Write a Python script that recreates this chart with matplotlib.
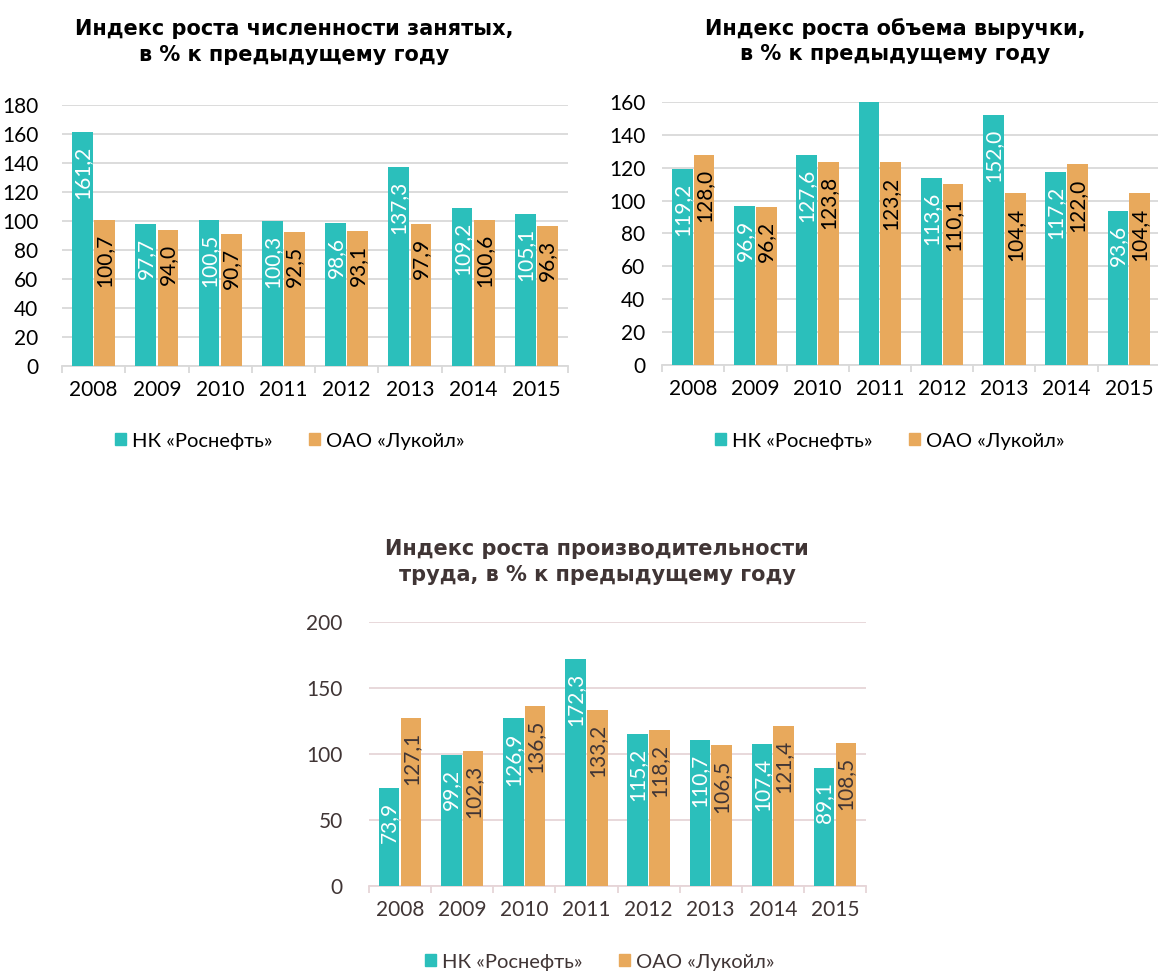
import matplotlib
matplotlib.use("Agg")
from matplotlib import pyplot as plt
from matplotlib.patches import Patch
import numpy as np

plt.rcParams['font.family'] = ['Lato', 'Open Sans', 'DejaVu Sans']

years = ['2008', '2009', '2010', '2011', '2012', '2013', '2014', '2015']
series_names = ['НК «Роснефть»', 'ОАО «Лукойл»']

emp_rosneft = [161.2, 97.7, 100.5, 100.3, 98.6, 137.3, 109.2, 105.1]
emp_lukoil = [100.7, 94.0, 90.7, 92.5, 93.1, 97.9, 100.6, 96.3]

rev_rosneft = [119.2, 96.9, 127.6, 172.8, 113.6, 152.0, 117.2, 93.6]
rev_lukoil = [128.0, 96.2, 123.8, 123.2, 110.1, 104.4, 122.0, 104.4]

prod_rosneft = [73.9, 99.2, 126.9, 172.3, 115.2, 110.7, 107.4, 89.1]
prod_lukoil = [127.1, 102.3, 136.5, 133.2, 118.2, 106.5, 121.4, 108.5]

TEAL = '#2bbfbb'
ORANGE = '#e8a95c'
W, H = 1158, 971


def fmt(v):
    return f"{v:.1f}".replace('.', ',')


def panel(rect, ros, luk, ymax, step, grid_color, text_color, label_pad):
    l, t, r, b = rect
    ax = fig.add_axes([l / W, 1 - b / H, (r - l) / W, (b - t) / H])
    x = np.arange(len(years))
    bw = 0.33
    off = 0.175
    bars1 = ax.bar(x - off, ros, bw, color=TEAL, zorder=3)
    bars2 = ax.bar(x + off, luk, bw, color=ORANGE, zorder=3)
    for bars, vals, col in [(bars1, ros, 'white'), (bars2, luk, text_color)]:
        for rect_, v in zip(bars, vals):
            # Excel drops the label when the bar runs past the axis
            if v > ymax:
                continue
            ax.annotate(fmt(v), (rect_.get_x() + rect_.get_width() / 2, v),
                        xytext=(0, -10), textcoords='offset points',
                        rotation=90, ha='center', va='top',
                        fontsize=15, color=col, zorder=4)
    ax.set_ylim(0, ymax)
    ax.set_xlim(-0.5, len(years) - 0.5)
    ax.set_yticks(np.arange(0, ymax + 1, step))
    ax.yaxis.grid(True, color=grid_color, linewidth=1.3, zorder=0)
    ax.set_axisbelow(True)
    for s in ['top', 'right', 'left']:
        ax.spines[s].set_visible(False)
    ax.spines['bottom'].set_color(grid_color)
    ax.spines['bottom'].set_linewidth(1.3)
    ax.set_xticks(x)
    ax.set_xticklabels(years)
    ax.set_xticks(np.arange(-0.5, len(years)), minor=True)
    ax.tick_params(axis='x', which='major', length=0, pad=10, labelsize=15, labelcolor=text_color)
    ax.tick_params(axis='x', which='minor', length=5, width=1.3, color=grid_color)
    ax.tick_params(axis='y', length=0, pad=label_pad, labelsize=15, labelcolor=text_color)
    return ax


def title(x, y, txt, color):
    fig.text(x / W, 1 - y / H, txt, ha='center', va='center', fontsize=15,
             fontweight='bold', color=color, family='DejaVu Sans', linespacing=1.35)


def legend(x, y, color):
    handles = [Patch(color=TEAL), Patch(color=ORANGE)]
    fig.legend(handles, series_names, loc='center', bbox_to_anchor=(x / W, 1 - y / H),
               ncol=2, frameon=False, fontsize=14.5, handlelength=0.55, handleheight=0.55,
               handletextpad=0.3, columnspacing=1.8, labelcolor=color)


fig = plt.figure(figsize=(W / 100, H / 100), dpi=100)

panel((62, 105, 568, 366), emp_rosneft, emp_lukoil, 180, 20, '#d9d9d9', 'black', 17)
title(294, 42, 'Индекс роста численности занятых,\nв % к предыдущему году', 'black')
legend(290, 441, 'black')

panel((662, 102, 1160, 365), rev_rosneft, rev_lukoil, 160, 20, '#d9d9d9', 'black', 12)
title(895, 41, 'Индекс роста объема выручки,\nв % к предыдущему году', 'black')
legend(890, 441, 'black')

brown = '#403535'
panel((369, 622, 866, 886), prod_rosneft, prod_lukoil, 200, 50, '#e6d5d8', brown, 19)
title(597, 562, 'Индекс роста производительности\nтруда, в % к предыдущему году', brown)
legend(600, 962, brown)

fig.savefig('out.png', dpi=100)
